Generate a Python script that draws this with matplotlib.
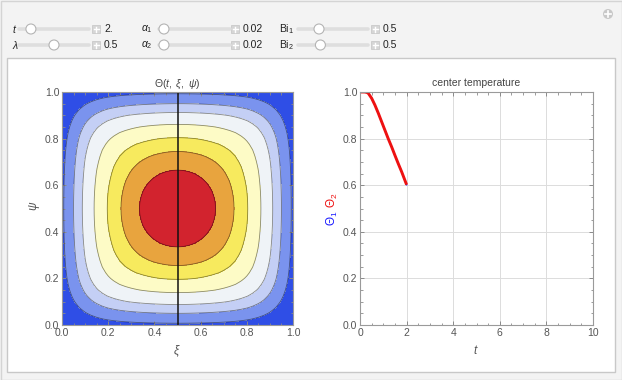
import numpy as np
import matplotlib
matplotlib.use("Agg")
import matplotlib.pyplot as plt
from matplotlib.patches import Rectangle, Circle
from matplotlib.ticker import MultipleLocator

plt.rcParams['font.family'] = ['Liberation Sans', 'DejaVu Sans']
plt.rcParams['mathtext.fontset'] = 'custom'
plt.rcParams['mathtext.rm'] = 'Liberation Sans'
plt.rcParams['mathtext.it'] = 'Liberation Sans:italic'
plt.rcParams['mathtext.bf'] = 'Liberation Sans:bold'

# ---------------- data ----------------
# controls
slider_labels = [r'$t$', r'$\lambda$', r'$\alpha_1$', r'$\alpha_2$', r'Bi$_1$', r'Bi$_2$']
slider_values = ['2.', '0.5', '0.02', '0.02', '0.5', '0.5']
slider_frac = [0.17, 0.5, 0.07, 0.07, 0.3, 0.32]

# contour field: 1-D profile (distance from centre, 0 = centre, 1 = wall) and centre value
profile_x = [0.0, 0.05, 0.10, 0.15, 0.20, 0.25, 0.30, 0.35, 0.40, 0.45, 0.50,
             0.55, 0.60, 0.65, 0.70, 0.75, 0.80, 0.85, 0.90, 0.95, 1.00]
profile_h = [1.0, 0.9995, 0.9980, 0.9955, 0.9920, 0.9874, 0.9817, 0.9747, 0.9661,
             0.9555, 0.9423, 0.9258, 0.9048, 0.8783, 0.8449, 0.8031, 0.7518,
             0.6902, 0.6183, 0.5371, 0.4493]
center_value = 0.6
contour_levels = [0.0, 0.2854, 0.3710, 0.4333, 0.4959, 0.5403, 0.5670, 0.5865, 1.0]
band_colors = ['#2f4ee6', '#7a93ee', '#c4cff5', '#eff3f7', '#fdfbc6',
               '#f7ea5e', '#e8a43e', '#d2232e']
interface_lambda = 0.5

# centre temperature
t_vals = [0.0, 0.1, 0.2, 0.3, 0.36, 0.5, 0.64, 0.79, 0.93, 1.07, 1.21, 1.36,
          1.5, 1.64, 1.79, 2.0]
theta_vals = [1.0, 1.0, 1.0, 0.998, 0.994, 0.973, 0.944, 0.908, 0.872, 0.836,
              0.80, 0.764, 0.728, 0.693, 0.657, 0.602]

# ---------------- figure ----------------
W, H = 622, 380
fig = plt.figure(figsize=(W / 100, H / 100), dpi=100)
fig.patch.set_facecolor('#f3f3f3')

bg = fig.add_axes([0, 0, 1, 1])
bg.set_xlim(0, W)
bg.set_ylim(H, 0)
bg.axis('off')
bg.add_patch(Rectangle((0.5, 0.5), W - 1, H - 1, facecolor='#f3f3f3', edgecolor='#d4d4d4', lw=1))
bg.add_patch(Rectangle((7, 58), 608, 314, facecolor='white', edgecolor='#c8c8c8', lw=1))

# sliders
rows_y = [29, 45]
cols = [
    dict(lab=12, t0=19, t1=89, plus=96, val=104),
    dict(lab=141, t0=159, t1=230, plus=235, val=243),
    dict(lab=279, t0=298, t1=368, plus=375, val=383),
]
for i, (lab, val, fr) in enumerate(zip(slider_labels, slider_values, slider_frac)):
    c = cols[i // 2]
    y = rows_y[i % 2]
    bg.text(c['lab'], y, lab, fontsize=7.5, ha='left', va='center', color='#222222')
    bg.plot([c['t0'], c['t1']], [y, y], color='#dedede', lw=2.6, solid_capstyle='round')
    kx = c['t0'] + fr * (c['t1'] - c['t0'])
    bg.add_patch(Circle((kx, y), 5, facecolor='white', edgecolor='#b4b4b4', lw=0.8, zorder=3))
    bg.add_patch(Rectangle((c['plus'] - 4, y - 4), 8, 8, facecolor='#d6d6d6', edgecolor='#c4c4c4', lw=0.5))
    bg.plot([c['plus'] - 2.5, c['plus'] + 2.5], [y, y], color='white', lw=1)
    bg.plot([c['plus'], c['plus']], [y - 2.5, y + 2.5], color='white', lw=1)
    bg.text(c['val'], y, val, fontsize=7.5, ha='left', va='center', color='#222222')
bg.add_patch(Circle((608, 14), 5, facecolor='#c8c8c8', edgecolor='none'))
bg.plot([605, 611], [14, 14], color='white', lw=1.2)
bg.plot([608, 608], [11, 17], color='white', lw=1.2)


def style_axes(ax, xmaj, xmin, ymaj, ymin):
    for s in ax.spines.values():
        s.set_color('#9a9a9a')
        s.set_linewidth(0.8)
    ax.xaxis.set_major_locator(MultipleLocator(xmaj))
    ax.xaxis.set_minor_locator(MultipleLocator(xmin))
    ax.yaxis.set_major_locator(MultipleLocator(ymaj))
    ax.yaxis.set_minor_locator(MultipleLocator(ymin))
    ax.tick_params(which='both', direction='in', top=True, right=True,
                   color='#8a8a8a', labelsize=7.5, labelcolor='#555555', pad=2)
    ax.tick_params(which='major', length=3.2, width=0.7)
    ax.tick_params(which='minor', length=1.8, width=0.6)


fmt = lambda v: f'{v:.1f}'
unit_ticks = [0, 0.2, 0.4, 0.6, 0.8, 1.0]

# ---------------- left: contour plot ----------------
ax1 = fig.add_axes([62 / W, 1 - 325 / H, 231 / W, 233 / H])
xi = np.linspace(0, 1, 601)
psi = np.linspace(0, 1, 601)
XI, PSI = np.meshgrid(xi, psi)
hx = np.interp(np.abs(2 * XI - 1), profile_x, profile_h)
hy = np.interp(np.abs(2 * PSI - 1), profile_x, profile_h)
Z = center_value * hx * hy
ax1.contourf(XI, PSI, Z, levels=contour_levels, colors=band_colors)
ax1.contour(XI, PSI, Z, levels=contour_levels[1:-1], colors='#000000', linewidths=0.6, alpha=0.45)
ax1.axvline(interface_lambda, color='#111111', lw=1.1)
ax1.set_xlim(0, 1)
ax1.set_ylim(0, 1)
style_axes(ax1, 0.2, 0.05, 0.2, 0.05)
ax1.set_xticks(unit_ticks)
ax1.set_xticklabels([fmt(v) for v in unit_ticks])
ax1.set_yticks(unit_ticks)
ax1.set_yticklabels([fmt(v) for v in unit_ticks])
ax1.set_title(r'$\Theta(t,\ \xi,\ \psi)$', fontsize=7.5, color='#444444', pad=4)
fig.text(177 / W, 1 - 351 / H, r'$\xi$', fontsize=8.5, color='#555555', ha='center', va='center')
fig.text(34 / W, 1 - 206 / H, r'$\psi$', fontsize=8.5, color='#555555', ha='center', va='center', rotation=90)

# ---------------- right: centre temperature ----------------
ax2 = fig.add_axes([360 / W, 1 - 325 / H, 233 / W, 233 / H])
ax2.grid(True, which='major', color='#dcdcdc', lw=0.7)
ax2.set_axisbelow(True)
ax2.plot(t_vals, theta_vals, color='#1a1aff', lw=1.0)
ax2.plot(t_vals, theta_vals, color='#ee1111', lw=2.1, solid_capstyle='butt')
ax2.set_xlim(0, 10)
ax2.set_ylim(0, 1)
style_axes(ax2, 2, 0.5, 0.2, 0.05)
ax2.set_yticks(unit_ticks)
ax2.set_yticklabels([fmt(v) for v in unit_ticks])
ax2.set_title('center temperature', fontsize=7.5, color='#444444', pad=4)
fig.text(476 / W, 1 - 351 / H, r'$t$', fontsize=8.5, color='#555555', ha='center', va='center')
fig.text(332 / W, 1 - 218 / H, r'$\Theta_1$', fontsize=8.5, color='#1a1aff', ha='center', va='center', rotation=90)
fig.text(332 / W, 1 - 200 / H, r'$\Theta_2$', fontsize=8.5, color='#ee1111', ha='center', va='center', rotation=90)

fig.savefig('out.png', dpi=100, facecolor=fig.get_facecolor())
